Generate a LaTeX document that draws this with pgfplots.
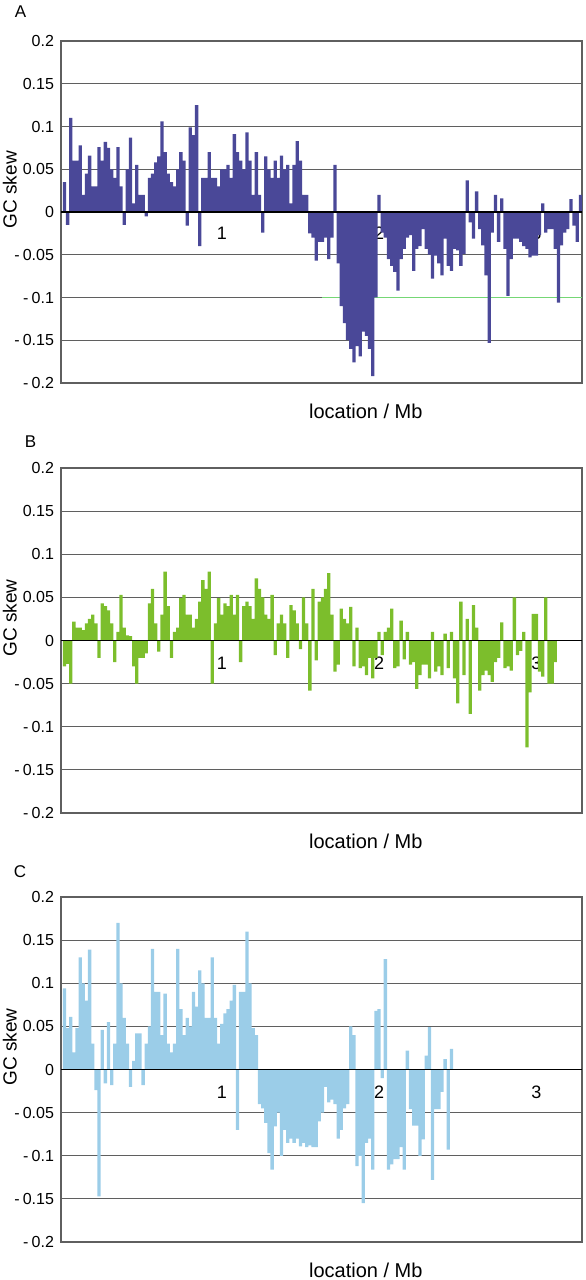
\documentclass[border=0pt]{standalone}
\usepackage{fontspec}
\setmainfont{Liberation Sans}
\usepackage{pgfplots}
\pgfplotsset{compat=1.18}

\definecolor{skewA}{RGB}{74,72,152}
\definecolor{skewB}{RGB}{124,190,44}
\definecolor{skewC}{RGB}{155,205,232}
\definecolor{gridgray}{RGB}{95,95,95}

\pgfplotsset{
  layers/gcskew/.define layer set={
    axis background,axis grid,axis ticks,axis lines,pre main,main,
    axis tick labels,axis descriptions,axis foreground
  }{},
  skewpanel/.style={
    set layers=gcskew,
    scale only axis,
    width=260.5pt,
    xmin=-0.022, xmax=3.29,
    ymin=-0.2, ymax=0.2,
    ytick={-0.2,-0.15,-0.1,-0.05,0,0.05,0.1,0.15,0.2},
    yticklabels={-\kern1.6pt 0.2,-\kern1.6pt 0.15,-\kern1.6pt 0.1,-\kern1.6pt 0.05,0,0.05,0.1,0.15,0.2},
    xtick={1,2,3},
    xticklabels={1,2,3},
    major tick length=0pt,
    ymajorgrids,
    grid style={gridgray, line width=0.6pt},
    axis line style={gridgray, line width=0.6pt},
    yticklabel style={font=\fontsize{8}{9}\selectfont},
    xticklabel style={font=\fontsize{9}{10}\selectfont, anchor=center, yshift=75pt},
    xlabel={location / Mb},
    xlabel style={at={(axis description cs:0.585,-0.082)}, anchor=center,
      font=\fontsize{10}{12}\selectfont},
    ylabel={GC skew},
    ylabel style={at={(axis description cs:-0.098,0.565)}, anchor=center,
      font=\fontsize{9.5}{11}\selectfont},
    ybar, bar width=0.021, bar shift=0,
  },
}

\begin{document}
\begin{tikzpicture}

% ---------- A ----------
\node[font=\fontsize{8.5}{10}\selectfont] at (10.25pt,-6pt) {A};
\begin{axis}[skewpanel, height=171pt, at={(30.5pt,-20.5pt)}, anchor=north west]
\draw[green!55!gray!70, line width=0.6pt] (axis cs:1.64,-0.1) -- (axis cs:3.29,-0.1);
\addplot[fill=skewA, draw=none] coordinates {
(0.00,0.035) (0.02,-0.015) (0.04,0.11) (0.06,0.06) (0.08,0.06) (0.10,0.078) (0.12,0.02) (0.14,0.045)
(0.16,0.066) (0.18,0.03) (0.20,0.03) (0.22,0.076) (0.24,0.06) (0.26,0.082) (0.28,0.075) (0.30,0.05)
(0.32,0.04) (0.34,0.076) (0.36,0.03) (0.38,-0.015) (0.40,0.05) (0.42,0.087) (0.44,0.01) (0.46,0.055)
(0.48,0.02) (0.50,0.02) (0.52,-0.005) (0.54,0.04) (0.56,0.045) (0.58,0.058) (0.60,0.065) (0.62,0.106)
(0.64,0.07) (0.66,0.045) (0.68,0.035) (0.70,0.03) (0.72,0.05) (0.74,0.07) (0.76,0.06) (0.78,-0.016)
(0.80,0.099) (0.82,0.09) (0.84,0.125) (0.86,-0.04) (0.88,0.04) (0.90,0.04) (0.92,0.07) (0.94,0.04)
(0.96,0.04) (0.98,0.03) (1.00,0.05) (1.02,0.05) (1.04,0.055) (1.06,0.04) (1.08,0.091) (1.10,0.07)
(1.12,0.06) (1.14,0.05) (1.16,0.093) (1.18,0.06) (1.20,0.02) (1.22,0.07) (1.24,0.02) (1.26,-0.024)
(1.28,0.065) (1.30,0.05) (1.32,0.04) (1.34,0.06) (1.36,0.04) (1.38,0.066) (1.40,0.05) (1.42,0.055)
(1.44,0.01) (1.46,0.055) (1.48,0.083) (1.50,0.06) (1.52,0.02) (1.54,0.02) (1.56,-0.025) (1.58,-0.03)
(1.60,-0.057) (1.62,-0.035) (1.64,-0.035) (1.66,-0.03) (1.68,-0.055) (1.70,-0.03) (1.72,0.055) (1.74,-0.06)
(1.76,-0.11) (1.78,-0.13) (1.80,-0.15) (1.82,-0.16) (1.84,-0.176) (1.86,-0.157) (1.88,-0.169) (1.90,-0.14)
(1.92,-0.145) (1.94,-0.16) (1.96,-0.192) (1.98,-0.10) (2.00,0.02) (2.02,-0.024) (2.04,-0.03) (2.06,-0.055)
(2.08,-0.063) (2.10,-0.07) (2.12,-0.092) (2.14,-0.055) (2.16,-0.043) (2.18,-0.03) (2.20,-0.027) (2.22,-0.069)
(2.24,-0.043) (2.26,-0.04) (2.28,-0.02) (2.30,-0.043) (2.32,-0.05) (2.34,-0.078) (2.36,-0.051) (2.38,-0.06)
(2.40,-0.074) (2.42,-0.031) (2.44,-0.063) (2.46,-0.069) (2.48,-0.043) (2.50,-0.045) (2.52,-0.063) (2.54,-0.049)
(2.56,0.037) (2.58,-0.012) (2.60,-0.031) (2.62,0.024) (2.64,-0.02) (2.66,-0.039) (2.68,-0.074) (2.70,-0.153)
(2.72,-0.024) (2.74,0.02) (2.76,-0.035) (2.78,0.016) (2.80,-0.043) (2.82,-0.098) (2.84,-0.055) (2.86,-0.031)
(2.88,-0.031) (2.90,-0.035) (2.92,-0.04) (2.94,-0.043) (2.96,-0.053) (2.98,-0.051) (3.00,-0.051) (3.02,-0.027)
(3.04,0.01) (3.06,-0.024) (3.08,-0.02) (3.10,-0.02) (3.12,-0.043) (3.14,-0.106) (3.16,-0.039) (3.18,-0.024)
(3.20,-0.02) (3.22,0.015) (3.24,-0.016) (3.26,-0.035) (3.28,0.02)
};
\draw[black, line width=0.8pt] (rel axis cs:0,0.5) -- (rel axis cs:1,0.5);
\end{axis}

% ---------- B ----------
\node[font=\fontsize{8.5}{10}\selectfont] at (15.25pt,-220.75pt) {B};
\begin{axis}[skewpanel, height=172.5pt, at={(30.5pt,-234pt)}, anchor=north west]
\addplot[fill=skewB, draw=none] coordinates {
(0.00,-0.03) (0.02,-0.027) (0.04,-0.05) (0.06,0.022) (0.08,0.015) (0.10,0.015) (0.12,0.012) (0.14,0.02)
(0.16,0.025) (0.18,0.03) (0.20,0.02) (0.22,-0.02) (0.24,0.043) (0.26,0.04) (0.28,0.035) (0.30,0.02)
(0.32,-0.025) (0.34,0.01) (0.36,0.053) (0.38,0.015) (0.40,0.006) (0.42,0.005) (0.44,-0.03) (0.46,-0.05)
(0.48,-0.02) (0.50,-0.02) (0.52,-0.015) (0.54,0.043) (0.56,0.06) (0.58,0.02) (0.60,-0.013) (0.62,0.03)
(0.64,0.08) (0.66,0.04) (0.68,-0.02) (0.70,0.01) (0.72,0.015) (0.74,0.049) (0.76,0.053) (0.78,0.03)
(0.80,0.03) (0.82,0.015) (0.84,0.025) (0.86,0.045) (0.88,0.07) (0.90,0.06) (0.92,0.08) (0.94,-0.05)
(0.96,0.02) (0.98,0.049) (1.00,0.03) (1.02,0.043) (1.04,0.04) (1.06,0.053) (1.08,0.03) (1.10,0.053)
(1.12,-0.025) (1.14,0.04) (1.16,0.045) (1.18,0.04) (1.20,0.025) (1.22,0.072) (1.24,0.06) (1.26,0.05)
(1.28,0.03) (1.30,0.025) (1.32,0.053) (1.34,-0.017) (1.36,0.02) (1.38,0.03) (1.40,0.02) (1.42,-0.02)
(1.44,0.041) (1.46,0.035) (1.48,0.02) (1.50,-0.01) (1.52,0.05) (1.54,0.02) (1.56,-0.058) (1.58,0.06)
(1.60,-0.023) (1.62,0.045) (1.64,0.05) (1.66,0.06) (1.68,0.078) (1.70,0.03) (1.72,-0.036) (1.74,-0.028)
(1.76,0.037) (1.78,0.025) (1.80,0.02) (1.82,0.039) (1.84,-0.03) (1.86,0.015) (1.88,-0.032) (1.90,-0.03)
(1.92,-0.04) (1.94,-0.02) (1.96,-0.044) (1.98,-0.02) (2.00,0.01) (2.02,-0.017) (2.04,0.01) (2.06,0.015)
(2.08,0.037) (2.10,-0.032) (2.12,-0.03) (2.14,0.023) (2.16,-0.022) (2.18,0.01) (2.20,-0.028) (2.22,-0.025)
(2.24,-0.056) (2.26,-0.04) (2.28,-0.028) (2.30,-0.028) (2.32,-0.044) (2.34,0.01) (2.36,-0.036) (2.38,-0.03)
(2.40,-0.04) (2.42,0.008) (2.44,-0.032) (2.46,0.01) (2.48,-0.044) (2.50,-0.073) (2.52,0.045) (2.54,-0.04)
(2.56,0.025) (2.58,-0.085) (2.60,0.041) (2.62,0.015) (2.64,-0.058) (2.66,-0.04) (2.68,-0.035) (2.70,-0.04)
(2.72,-0.048) (2.74,-0.025) (2.76,-0.02) (2.78,0.021) (2.80,-0.032) (2.82,-0.03) (2.84,-0.035) (2.86,0.05)
(2.88,-0.017) (2.90,-0.012) (2.92,0.01) (2.94,-0.124) (2.96,-0.06) (2.98,0.031) (3.00,0.031) (3.02,-0.036)
(3.04,-0.042) (3.06,0.05) (3.08,-0.05) (3.10,-0.05) (3.12,-0.025)
};
\draw[black, line width=0.8pt] (rel axis cs:0,0.5) -- (rel axis cs:1,0.5);
\end{axis}

% ---------- C ----------
\node[font=\fontsize{8.5}{10}\selectfont] at (10pt,-435.75pt) {C};
\begin{axis}[skewpanel, height=172.5pt, at={(30.5pt,-448.5pt)}, anchor=north west]
\addplot[fill=skewC, draw=none] coordinates {
(0.00,0.094) (0.02,0.048) (0.04,0.061) (0.06,0.02) (0.08,0.048) (0.10,0.13) (0.12,0.1) (0.14,0.08)
(0.16,0.139) (0.18,0.03) (0.20,-0.024) (0.22,-0.147) (0.24,0.046) (0.26,-0.016) (0.28,0.055) (0.30,-0.018)
(0.32,0.03) (0.34,0.17) (0.36,0.1) (0.38,0.06) (0.40,0.03) (0.42,-0.02) (0.44,0.01) (0.46,0.042)
(0.48,0.042) (0.50,-0.018) (0.52,0.03) (0.54,0.05) (0.56,0.14) (0.58,0.09) (0.60,0.09) (0.62,0.04)
(0.64,0.088) (0.66,0.03) (0.68,0.02) (0.70,0.03) (0.72,0.14) (0.74,0.07) (0.76,0.04) (0.78,0.06)
(0.80,0.05) (0.82,0.09) (0.84,0.073) (0.86,0.115) (0.88,0.1) (0.90,0.06) (0.92,0.06) (0.94,0.13)
(0.96,0.06) (0.98,0.03) (1.00,0.053) (1.02,0.065) (1.04,0.07) (1.06,0.08) (1.08,0.098) (1.10,-0.07)
(1.12,0.09) (1.14,0.09) (1.16,0.16) (1.18,0.1) (1.20,0.048) (1.22,0.04) (1.24,-0.04) (1.26,-0.045)
(1.28,-0.062) (1.30,-0.097) (1.32,-0.116) (1.34,-0.066) (1.36,-0.05) (1.38,-0.1) (1.40,-0.07) (1.42,-0.085)
(1.44,-0.08) (1.46,-0.085) (1.48,-0.08) (1.50,-0.089) (1.52,-0.085) (1.54,-0.09) (1.56,-0.088) (1.58,-0.09)
(1.60,-0.09) (1.62,-0.06) (1.64,-0.05) (1.66,-0.02) (1.68,-0.038) (1.70,-0.035) (1.72,-0.04) (1.74,-0.08)
(1.76,-0.07) (1.78,-0.045) (1.80,-0.04) (1.82,0.05) (1.84,0.04) (1.86,-0.112) (1.88,-0.1) (1.90,-0.155)
(1.92,-0.085) (1.94,-0.08) (1.96,-0.116) (1.98,0.068) (2.00,0.07) (2.02,-0.01) (2.04,0.128) (2.06,-0.116)
(2.08,-0.11) (2.10,-0.104) (2.12,-0.104) (2.14,-0.09) (2.16,-0.116) (2.18,0.022) (2.20,-0.046) (2.22,-0.065)
(2.24,-0.065) (2.26,-0.1) (2.28,-0.081) (2.30,0.016) (2.32,0.049) (2.34,-0.128) (2.36,-0.046) (2.38,-0.046)
(2.40,-0.026) (2.42,0.012) (2.44,-0.093) (2.46,0.024)
};
\draw[black, line width=0.8pt] (rel axis cs:0,0.5) -- (rel axis cs:1,0.5);
\end{axis}

\pgfresetboundingbox
\path (0pt,0pt) rectangle (292.5pt,-640pt);
\end{tikzpicture}
\end{document}
